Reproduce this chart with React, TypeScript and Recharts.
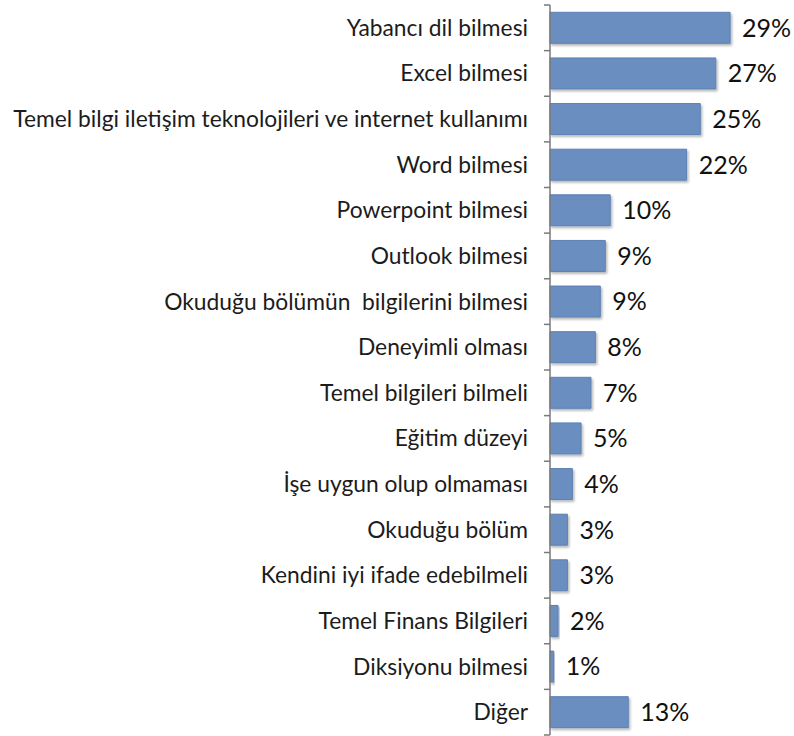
import React from "react";
import { Bar, BarChart, LabelList, Rectangle, XAxis, YAxis } from "recharts";

const categories = [
  "Yabancı dil bilmesi",
  "Excel bilmesi",
  "Temel bilgi iletişim teknolojileri ve internet kullanımı",
  "Word bilmesi",
  "Powerpoint bilmesi",
  "Outlook bilmesi",
  "Okuduğu bölümün  bilgilerini bilmesi",
  "Deneyimli olması",
  "Temel bilgileri bilmeli",
  "Eğitim düzeyi",
  "İşe uygun olup olmaması",
  "Okuduğu bölüm",
  "Kendini iyi ifade edebilmeli",
  "Temel Finans Bilgileri",
  "Diksiyonu bilmesi",
  "Diğer",
];

// bar lengths
const values = [29, 26.7, 24.2, 22, 9.7, 8.9, 8.1, 7.3, 6.6, 5.0, 3.6, 2.8, 2.8, 1.3, 0.6, 12.6];

// printed percentages
const valueLabels = ["29%", "27%", "25%", "22%", "10%", "9%", "9%", "8%", "7%", "5%", "4%", "3%", "3%", "2%", "1%", "13%"];

const data = categories.map((name, i) => ({ name, value: values[i], label: valueLabels[i] }));

const FONT = "Lato, 'Open Sans', sans-serif";
const AXIS_COLOR = "#7a7a7a";

// tick text at band centre, tick marks at band edges
const CategoryTick = (props: any) => {
  const { x, y, payload, index, visibleTicksCount } = props;
  const half = payload.offset > 0 ? payload.offset : (736 - 6) / 16 / 2;
  const axisX = x + 17 + 5;
  return (
    <g>
      <line x1={axisX - 6} x2={axisX} y1={y - half} y2={y - half} stroke={AXIS_COLOR} strokeWidth={1.5} />
      {index === visibleTicksCount - 1 && (
        <line x1={axisX - 6} x2={axisX} y1={y + half} y2={y + half} stroke={AXIS_COLOR} strokeWidth={1.5} />
      )}
      <text
        x={x}
        y={y}
        dy="0.35em"
        textAnchor="end"
        fill="#1c1c1c"
        fontSize={22.8}
        fontFamily={FONT}
        style={{ whiteSpace: "pre" }}
      >
        {payload.value}
      </text>
    </g>
  );
};

const ShadowBar = (props: any) => <Rectangle {...props} filter="url(#barShadow)" />;

export default function App() {
  return (
    <div style={{ position: "absolute", left: 0, top: 0, background: "#fff" }}>
      <BarChart
        width={794}
        height={736}
        data={data}
        layout="vertical"
        margin={{ top: 5, right: 8, bottom: 1, left: 0 }}
        barCategoryGap="16%"
      >
        <defs>
          <filter id="barShadow" x="-20%" y="-20%" width="140%" height="160%">
            <feDropShadow dx="1.5" dy="2" stdDeviation="1.2" floodColor="#000" floodOpacity="0.28" />
          </filter>
        </defs>
        <XAxis type="number" domain={[0, 38]} hide />
        <YAxis
          type="category"
          dataKey="name"
          width={550}
          interval={0}
          tickLine={false}
          axisLine={{ stroke: AXIS_COLOR, strokeWidth: 1.5 }}
          tickSize={5}
          tickMargin={17}
          tick={<CategoryTick />}
        />
        <Bar
          dataKey="value"
          fill="#6a8ec0"
          stroke="#5c80b4"
          strokeWidth={1}
          shape={<ShadowBar />}
          isAnimationActive={false}
        >
          <LabelList
            dataKey="label"
            position="right"
            offset={12}
            fill="#111"
            fontSize={25}
            fontFamily={FONT}
          />
        </Bar>
      </BarChart>
    </div>
  );
}
